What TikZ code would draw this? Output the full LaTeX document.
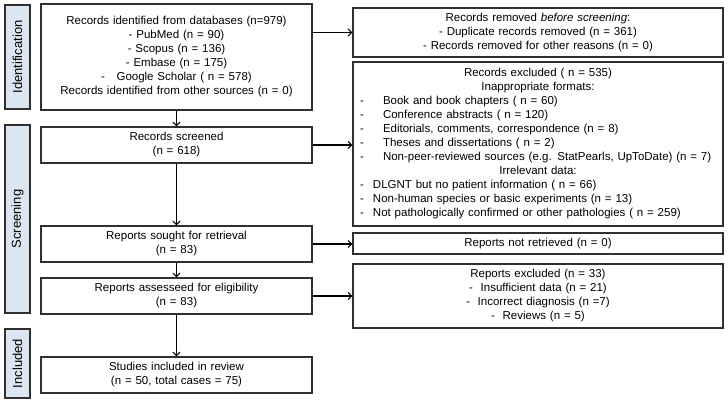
\documentclass[tikz,border=0pt]{standalone}
\usepackage{fontspec}
\setmainfont{Liberation Sans}
\usetikzlibrary{arrows.meta}
\definecolor{stagefill}{HTML}{DCE6F2}
\definecolor{boxline}{HTML}{303030}
\newcommand{\ctrline}[1]{\hbox to \hsize{\hfil #1\hfil}}
\newcommand{\listline}[2]{\hspace*{5pt}\makebox[#1][l]{-}#2}

\begin{document}
\begin{tikzpicture}[x=1pt, y=-1pt,
    font=\fontsize{11.5}{14}\selectfont,
    flowbox/.style={draw=boxline, line width=1.2pt, fill=white, inner sep=0pt,
        minimum width=271pt, text width=265pt, align=center},
    sidebox/.style={draw=boxline, line width=1.2pt, fill=stagefill, inner sep=0pt,
        minimum width=25pt, rotate=90, font=\fontsize{13}{15}\selectfont},
    flow/.style={-{Straight Barb[length=3.5pt,width=7pt]}, line width=1.1pt}]
    \useasboundingbox (0,0) rectangle (728,404);

    % 阶段标签
    \node[sidebox, minimum width=104pt, minimum height=25pt] (ident) at (17.5,57) {Identification};
    \node[sidebox, minimum width=188pt, minimum height=25pt] (screen) at (17.5,219) {Screening};
    \node[sidebox, minimum width=69pt, minimum height=25pt] (incl) at (17.5,363.5) {Included};

    % 左列
    \node[flowbox, minimum height=106pt] (found) at (176.5,57) {Records identified from databases (n=979)\\
        - PubMed (n = 90)\\ - Scopus (n = 136)\\ - Embase (n = 175)\\
        -\ \ \ Google Scholar ( n = 578)\\ Records identified from other sources (n = 0)};
    \node[flowbox, minimum height=36pt] (screened) at (176.5,145) {Records screened\\ (n = 618)};
    \node[flowbox, minimum height=36pt] (sought) at (176.5,244) {Reports sought for retrieval\\ (n = 83)};
    \node[flowbox, minimum height=36pt] (assessed) at (176.5,296) {Reports assesseed for eligibility\\ (n = 83)};
    \node[flowbox, minimum height=36pt] (included) at (176.5,375) {Studies included in review\\ (n = 50, total cases = 75)};

    % 右列
    \node[flowbox, minimum width=370pt, text width=366pt, minimum height=49pt] (removed) at (538,32.5)
        {Records removed \textit{before screening}:\\ - Duplicate records removed (n = 361)\\
        - Records removed for other reasons (n = 0)};
    \node[flowbox, minimum width=370pt, text width=366pt, minimum height=164pt, align=left] (excluded) at (538,144) {%
        \ctrline{Records excluded ( n = 535)}
        \ctrline{Inappropriate formats:}
        \listline{23pt}{Book and book chapters ( n = 60)}\\
        \listline{23pt}{Conference abstracts ( n = 120)}\\
        \listline{23pt}{Editorials, comments, correspondence (n = 8)}\\
        \listline{23pt}{Theses and dissertations ( n = 2)}\\
        \listline{23pt}{Non-peer-reviewed sources (e.g. StatPearls, UpToDate) (n = 7)}
        \ctrline{Irrelevant data:}
        \listline{13pt}{DLGNT but no patient information ( n = 66)}\\
        \listline{13pt}{Non-human species or basic experiments (n = 13)}\\
        \listline{13pt}{Not pathologically confirmed or other pathologies ( n = 259)}};
    \node[flowbox, minimum width=370pt, text width=366pt, minimum height=21pt] (notret) at (538,243.5)
        {Reports not retrieved (n = 0)};
    \node[flowbox, minimum width=370pt, text width=366pt, minimum height=64pt] (repexcl) at (538,296)
        {Reports excluded (n = 33)\\ -\ \ Insufficient data (n = 21)\\
        -\ \ Incorrect diagnosis (n =7)\\ -\ \ Reviews (n = 5)};

    % 箭头
    \draw[flow] (found.east |- removed.west) -- (removed.west);
    \draw[flow] (screened) -- (excluded.west |- screened);
    \draw[flow] (sought) -- (notret.west |- sought);
    \draw[flow] (assessed) -- (repexcl.west |- assessed);
    \draw[flow] (found) -- (screened);
    \draw[flow] (screened) -- (sought);
    \draw[flow] (sought) -- (assessed);
    \draw[flow] (assessed) -- (included);
\end{tikzpicture}
\end{document}
